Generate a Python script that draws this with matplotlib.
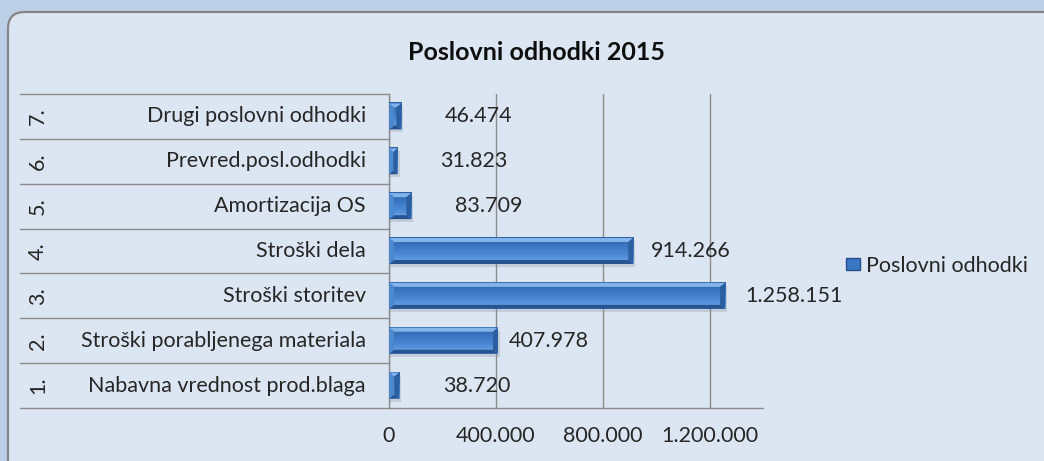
import numpy as np
import matplotlib
matplotlib.use('Agg')
import matplotlib.pyplot as plt
from matplotlib.patches import FancyBboxPatch, Polygon, Patch, Rectangle
from matplotlib.colors import LinearSegmentedColormap

plt.rcParams['font.family'] = ['Lato', 'DejaVu Sans']

title = 'Poslovni odhodki 2015'
series_name = 'Poslovni odhodki'
numbers = ['1.', '2.', '3.', '4.', '5.', '6.', '7.']
categories = ['Nabavna vrednost prod.blaga', 'Stroški porabljenega materiala',
              'Stroški storitev', 'Stroški dela', 'Amortizacija OS',
              'Prevred.posl.odhodki', 'Drugi poslovni odhodki']
values = [38720, 407978, 1258151, 914266, 83709, 31823, 46474]
xticks = [0, 400000, 800000, 1200000]
# where each value label sits right of its bar end (px), as dragged in the original
label_gap_px = [44, 11, 20, 18, 44, 43, 43]

W, H = 1044, 461
FS = 15.5
fig = plt.figure(figsize=(W / 100, H / 100), dpi=100)
fig.patch.set_facecolor('#bccfe7')

# rounded chart box, runs off the right and bottom edge
box = FancyBboxPatch((8 / W, -0.2), 1.2, (H - 12) / H + 0.2,
                     boxstyle='round,pad=0,rounding_size=0.016',
                     transform=fig.transFigure, facecolor='#dce6f2',
                     edgecolor='#858585', linewidth=1.6, zorder=-5,
                     mutation_aspect=W / H)
fig.patches.append(box)

x0, x1, ytop, ybot = 389, 763, 94, 408
ax = fig.add_axes([x0 / W, (H - ybot) / H, (x1 - x0) / W, (ybot - ytop) / H])
ax.set_facecolor('none')
xmax = 1400000
ax.set_xlim(0, xmax)
ax.set_ylim(-0.5, len(values) - 0.5)

px_x = xmax / (x1 - x0)
px_y = len(values) / (ybot - ytop)

body = LinearSegmentedColormap.from_list('body', ['#72aae8', '#4c8ad5', '#3b76c2', '#2e62a6'])
grad = np.linspace(0, 1, 64).reshape(-1, 1)
bh = 0.58
bev = 5

for i, v in enumerate(values):
    y0, y1 = i - bh / 2, i + bh / 2
    # soft shadow
    ax.add_patch(Rectangle((0, y0 - 3 * px_y), v + 2 * px_x, bh, facecolor='#7b8594',
                           alpha=0.25, edgecolor='none', zorder=2))
    ax.imshow(grad, extent=[0, v, y1, y0], cmap=body, aspect='auto',
              interpolation='bilinear', zorder=3)
    bx = min(bev * px_x, v / 2)
    by = bev * px_y * 0.8
    # bevel edges
    ax.add_patch(Polygon([(0, y1), (v, y1), (v - bx, y1 - by), (bx, y1 - by)],
                         facecolor='#8dbdf0', edgecolor='none', alpha=0.9, zorder=4))
    ax.add_patch(Polygon([(0, y0), (v, y0), (v - bx, y0 + by), (bx, y0 + by)],
                         facecolor='#23508c', edgecolor='none', alpha=0.95, zorder=4))
    ax.add_patch(Polygon([(v, y0), (v, y1), (v - bx, y1 - by), (v - bx, y0 + by)],
                         facecolor='#2c5f9f', edgecolor='none', zorder=4))
    ax.add_patch(Polygon([(0, y0), (0, y1), (bx, y1 - by), (bx, y0 + by)],
                         facecolor='#4d87cc', edgecolor='none', zorder=4))
    ax.annotate(f'{v:,}'.replace(',', '.'), (v, i), xytext=(label_gap_px[i] * 0.72, 0),
                textcoords='offset points', ha='left', va='center',
                fontsize=FS, color='#262626', zorder=5)

ax.set_xticks(xticks)
ax.set_xticklabels([f'{t:,}'.replace(',', '.') for t in xticks], fontsize=FS, color='#262626')
ax.tick_params(axis='x', length=0, pad=13)
ax.set_yticks([])
ax.grid(axis='x', color='#8c8c8c', linewidth=1)
ax.set_axisbelow(True)
for s in ['top', 'right']:
    ax.spines[s].set_visible(False)
for s in ['left', 'bottom']:
    ax.spines[s].set_color('#8c8c8c')
    ax.spines[s].set_linewidth(1)

# multi-level category table on the left
tr = ax.get_yaxis_transform()
left = (20 - x0) / (x1 - x0)
for k in range(len(values) + 1):
    ax.plot([left, 0], [k - 0.5, k - 0.5], transform=tr, color='#8c8c8c',
            linewidth=1, clip_on=False)
for i, (n, c) in enumerate(zip(numbers, categories)):
    ax.text((366 - x0) / (x1 - x0), i, c, transform=tr, ha='right', va='center',
            fontsize=FS, color='#262626')
    ax.text((38 - x0) / (x1 - x0), i, n, transform=tr, ha='center', va='center',
            rotation=90, fontsize=FS, color='#262626')

fig.text(537 / W, 1 - 52 / H, title, ha='center', va='center', fontsize=18,
         fontweight='bold', color='#0d0d0d')

handle = Patch(facecolor='#3b76c2', edgecolor='#23508c', linewidth=1)
fig.legend([handle], [series_name], loc='center left', bbox_to_anchor=(846 / W, 1 - 266 / H),
           frameon=False, fontsize=FS, handlelength=0.64, handleheight=0.5,
           handletextpad=0.3, borderaxespad=0, borderpad=0, labelcolor='#262626')

fig.savefig('out.png', dpi=100, facecolor=fig.get_facecolor())
